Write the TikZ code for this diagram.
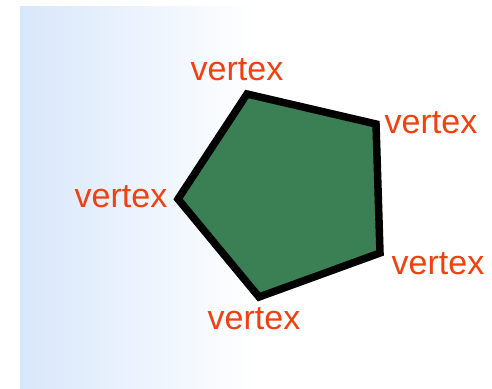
\documentclass[tikz,border=0pt]{standalone}
\usepackage{fontspec}
\setmainfont{Liberation Sans}
\definecolor{vtxred}{HTML}{F2410F}
\definecolor{pentgreen}{HTML}{3B7F54}
\definecolor{bgblue}{HTML}{D8E7FB}
\pgfdeclarehorizontalshading{bgfade}{100bp}{color(0bp)=(bgblue); color(25bp)=(bgblue); color(50bp)=(white); color(100bp)=(white)}
\tikzset{
  vlabel/.style={text=vtxred, font=\fontsize{34}{40}\selectfont, inner sep=0pt, anchor=base},
}
\begin{document}
\begin{tikzpicture}[x=1pt,y=-1pt]
\useasboundingbox (0,0) rectangle (492,388);
\fill[white] (0,0) rectangle (492,388);
\shade[shading=bgfade] (20,6) rectangle (492,388);
\coordinate (vt) at (247,94);
\coordinate (vrt) at (376,124);
\coordinate (vrb) at (380,253);
\coordinate (vb) at (259,297);
\coordinate (vl) at (178,199);
\draw[fill=pentgreen, line width=7.5pt, line join=miter] (vt) -- (vrt) -- (vrb) -- (vb) -- (vl) -- cycle;
\node[vlabel] (lt) at (237,80) {vertex};
\node[vlabel] (lrt) at (431,133) {vertex};
\node[vlabel] (ll) at (121,207) {vertex};
\node[vlabel] (lrb) at (438,274) {vertex};
\node[vlabel] (lb) at (254,329) {vertex};
\end{tikzpicture}
\end{document}
